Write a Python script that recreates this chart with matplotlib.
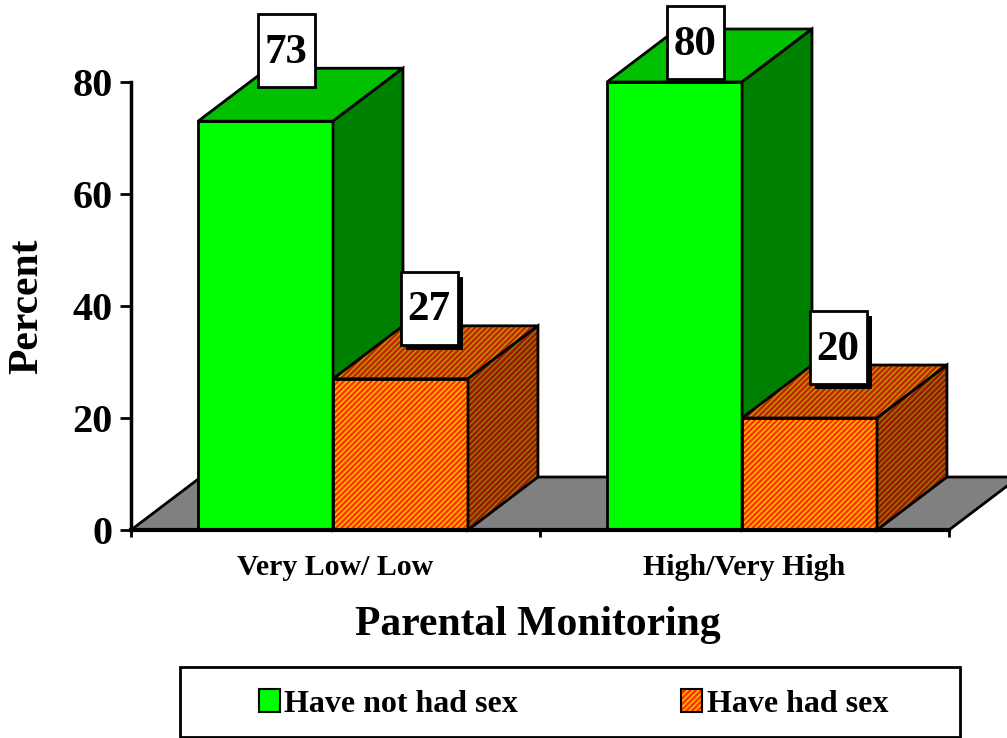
import matplotlib
matplotlib.use('Agg')
import matplotlib.pyplot as plt
from matplotlib.patches import Polygon, Rectangle

# data
categories = ['Very Low/ Low', 'High/Very High']
series_names = ['Have not had sex', 'Have had sex']
not_had_sex = [73, 80]
had_sex = [27, 20]
y_ticks = [0, 20, 40, 60, 80]

plt.rcParams['font.family'] = 'Liberation Serif'
plt.rcParams['font.weight'] = 'bold'
plt.rcParams['hatch.linewidth'] = 1.0

W, H = 1007, 738
fig = plt.figure(figsize=(W / 100, H / 100), dpi=100)
ax = fig.add_axes([131 / W, 1 - 530 / H, 818 / W, 448 / H])
ax.set_xlim(0, 2)
ax.set_ylim(0, 80)

# 3d depth offset (data units), bar width, group start
dx, dy = 0.171, 9.46
bw = 0.33
x0 = 0.164

# (face colour, hatch colour) for front, top, side
styles = [
    {'front': ('#00FF00', None), 'top': ('#00C000', None), 'side': ('#008000', None)},
    {'front': ('#FF3300', '#FFCC00'), 'top': ('#C02600', '#C09A00'), 'side': ('#991A00', '#997A00')},
]


def face(pts, fc, hc, z):
    if hc is None:
        ax.add_patch(Polygon(pts, closed=True, facecolor=fc, edgecolor='black',
                             lw=2, joinstyle='miter', clip_on=False, zorder=z))
    else:
        ax.add_patch(Polygon(pts, closed=True, facecolor=fc, edgecolor=hc, hatch='//////',
                             lw=0, clip_on=False, zorder=z))
        ax.add_patch(Polygon(pts, closed=True, fill=False, edgecolor='black',
                             lw=2, joinstyle='miter', clip_on=False, zorder=z))


# floor
floor = [(0, 0), (2, 0), (2 + dx, dy), (dx, dy)]
ax.add_patch(Polygon(floor, closed=True, facecolor='#808080', edgecolor='black',
                     lw=2, clip_on=False, zorder=1))

z = 2
for i in range(len(categories)):
    for j, vals in enumerate([not_had_sex, had_sex]):
        v = vals[i]
        x = i + x0 + j * bw
        st = styles[j]
        face([(x, 0), (x + bw, 0), (x + bw, v), (x, v)], *st['front'], z)
        face([(x, v), (x + bw, v), (x + bw + dx, v + dy), (x + dx, v + dy)], *st['top'], z)
        face([(x + bw, 0), (x + bw + dx, dy), (x + bw + dx, v + dy), (x + bw, v)], *st['side'], z)
        z += 1

# value labels in white boxes
lw_box, lh_box = 57 / 409, 73 / 5.6
for i in range(len(categories)):
    for j, vals in enumerate([not_had_sex, had_sex]):
        v = vals[i]
        cx = i + x0 + j * bw + bw / 2 + (0.05 if j == 0 else 0.07)
        cy = min(v + 12.6, 87)
        if j == 1:
            ax.add_patch(Rectangle((cx - lw_box / 2 + 5 / 409, cy - lh_box / 2 - 5 / 5.6),
                                   lw_box, lh_box, facecolor='black', edgecolor='none',
                                   clip_on=False, zorder=20))
        ax.add_patch(Rectangle((cx - lw_box / 2, cy - lh_box / 2), lw_box, lh_box,
                               facecolor='white', edgecolor='black', lw=2,
                               clip_on=False, zorder=21))
        ax.text(cx, cy - 0.4, str(v), ha='center', va='center', fontsize=31,
                fontweight='bold', zorder=22)

# axes styling
for s in ['top', 'right']:
    ax.spines[s].set_visible(False)
ax.spines['left'].set_linewidth(2.5)
ax.spines['bottom'].set_linewidth(3)
ax.spines['left'].set_zorder(30)
ax.spines['bottom'].set_zorder(30)

ax.set_yticks(y_ticks)
ax.tick_params(axis='y', direction='out', length=8, width=2, labelsize=29, pad=5)
ax.set_xticks([0.5, 1.5])
ax.set_xticklabels(categories)
ax.set_xticks([0, 1, 2], minor=True)
ax.tick_params(axis='x', which='major', length=0, labelsize=21.5, pad=17)
ax.tick_params(axis='x', which='minor', direction='out', length=5, width=2)

ax.set_ylabel('Percent', fontsize=30, fontweight='bold', va='center')
ax.yaxis.set_label_coords(-0.127, 0.5)
ax.set_xlabel('Parental Monitoring', fontsize=30, fontweight='bold', va='center')
ax.xaxis.set_label_coords(0.497, -0.212)

# legend
fig.add_artist(Rectangle((180 / W, 1 - 737 / H), 780 / W, 70 / H, transform=fig.transFigure,
                         fill=False, edgecolor='black', lw=2))
h1 = Rectangle((0, 0), 1, 1, facecolor='#00FF00', edgecolor='black', lw=1.5)
h2a = Rectangle((0, 0), 1, 1, facecolor='#FF3300', edgecolor='#FFCC00', hatch='//////', lw=0)
h2b = Rectangle((0, 0), 1, 1, fill=False, edgecolor='black', lw=1.5)
fig.legend([h1, (h2a, h2b)], series_names, loc='center',
           bbox_to_anchor=(573.5 / W, 1 - 704 / H), ncol=2, frameon=False,
           prop={'size': 23, 'weight': 'bold'}, handlelength=0.65, handleheight=0.7,
           handletextpad=0.15, columnspacing=5.1, borderpad=0)

fig.savefig('out.png', dpi=100)
